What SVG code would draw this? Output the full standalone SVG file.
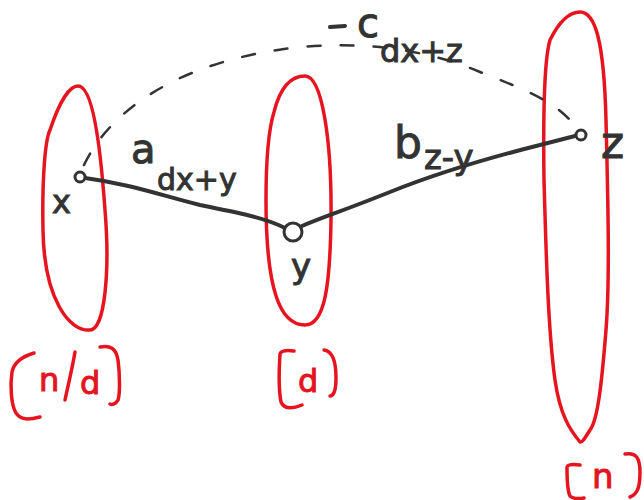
<svg xmlns="http://www.w3.org/2000/svg" width="644" height="500" viewBox="0 0 644 500">
<style>
.red{fill:none;stroke:#e5141f;stroke-width:3.5;stroke-linecap:round;stroke-linejoin:round}
.edge{fill:none;stroke:#333;stroke-width:4;stroke-linecap:round;stroke-linejoin:round}
.dash{fill:none;stroke:#333;stroke-width:2.5;stroke-dasharray:13 20;stroke-linecap:round}
.pt{fill:#fff;stroke:#333;stroke-width:3}
.lbl{font-family:"DejaVu Sans",sans-serif;fill:#333;stroke:#333;stroke-width:1}
.rlbl{font-family:"DejaVu Sans",sans-serif;fill:#e5141f;stroke:#e5141f;stroke-width:1}
</style>
<rect width="644" height="500" fill="#fff"/>
<g id="group-nd">
<path class="red" d="M50,130 C60,100 70,86 78,86 C92,86 100,140 105,210 C110,270 105,330 90,330 C70,332 44,300 43,230 C42,180 45,140 50,130 Z"/>
<path class="red" d="M34,353 C24,356 14,362 12,372 C10,385 11,405 16,413 C21,420 28,420 40,417"/>
<text class="rlbl" x="39" y="391" font-size="32">n</text>
<path class="red" d="M75,352 C72,370 68,385 65,400"/>
<text class="rlbl" x="80" y="394" font-size="32">d</text>
<path class="red" d="M100,347 C110,345 116,348 118,360 C120,375 120,395 118,400 C116,404 112,405 110,404"/>
</g>
<g id="group-d">
<path class="red" d="M274,112 C280,88 290,76 305,76 C322,76 332,140 331,220 C330,285 325,325 305,325 C280,325 266,290 266,200 C266,150 270,125 274,112 Z"/>
<path class="red" d="M294,351 C286,350 281,351 280,354 C279,370 279,392 281,402 C284,409 292,409 302,405"/>
<text class="rlbl" x="298" y="392" font-size="32">d</text>
<path class="red" d="M324,350 C332,351 336,360 336,378 C336,392 333,396 330,396"/>
</g>
<g id="group-n">
<path class="red" d="M550,40 C560,20 570,12 580,12 C595,12 604,40 606,120 C608,200 610,280 606,330 C602,380 598,420 590,430 C585,438 582,443 580,442 C570,430 560,415 555,380 C548,330 546,250 544,180 C543,110 544,60 550,40 Z"/>
<path class="red" d="M580,465 C573,464 568,464 567,467 C567,480 568,492 570,496 C573,499 578,499 584,498"/>
<text class="rlbl" x="592" y="488" font-size="34">n</text>
<path class="red" d="M625,454 C636,452 640,458 640,472 C640,486 638,494 630,497"/>
</g>
<g id="connectors">
<path class="dash" d="M84,165 C110,110 180,60 300,47 C380,40 440,55 480,72 C520,88 555,100 574,125"/>
<path class="edge" d="M85,178 C130,184 160,195 200,205 C240,213 265,218 285,228"/>
<path class="edge" d="M302,226 C320,218 340,212 390,192 C430,176 480,160 540,145 L575,136"/>
<line class="edge" x1="330" y1="27" x2="345" y2="26"/>
</g>
<g id="node-x">
<circle class="pt" cx="80" cy="177" r="5"/>
<text class="lbl" x="52" y="213" font-size="32">x</text>
</g>
<g id="node-y">
<circle class="pt" cx="293" cy="232" r="9"/>
<text class="lbl" x="291" y="278" font-size="34">y</text>
</g>
<g id="node-z">
<circle class="pt" cx="581" cy="135" r="5"/>
<text class="lbl" x="601" y="158" font-size="44">z</text>
</g>
<g id="labels">
<text class="lbl" x="131" y="163" font-size="40">a</text>
<text class="lbl" x="157" y="190" font-size="30">dx+y</text>
<text class="lbl" x="394" y="158" font-size="44">b</text>
<text class="lbl" x="424" y="169" font-size="34">z-y</text>
<text class="lbl" x="357" y="37" font-size="40">c</text>
<text class="lbl" x="380" y="62" font-size="32">dx+z</text>
</g>
</svg>
